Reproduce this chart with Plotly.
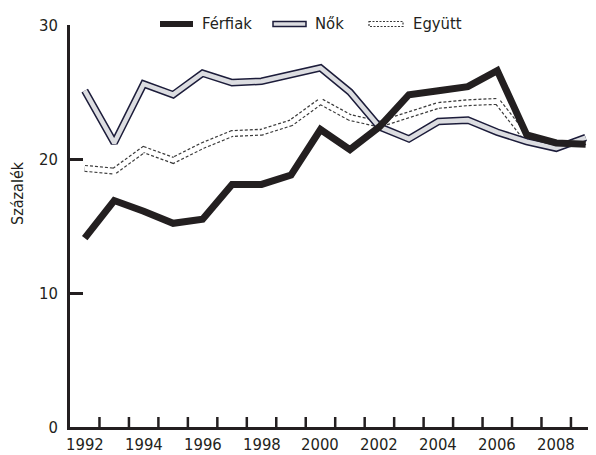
import plotly.graph_objects as go

years = list(range(1992, 2010))
ferfiak = [14.1, 16.9, 16.1, 15.2, 15.5, 18.1, 18.1, 18.8, 22.2, 20.7, 22.4, 24.8, 25.1, 25.4, 26.6, 21.8, 21.2, 21.1]
nok = [25.1, 21.2, 25.6, 24.8, 26.4, 25.7, 25.8, 26.3, 26.8, 25.0, 22.4, 21.5, 22.8, 22.9, 22.0, 21.3, 20.8, 21.6]
egyutt = [19.3, 19.1, 20.7, 19.9, 21.0, 21.9, 22.0, 22.7, 24.3, 23.1, 22.6, 23.3, 24.0, 24.2, 24.3, 21.5, 21.0, 21.3]
label_years = list(range(1992, 2009, 2))
tick_years = [y + 0.5 for y in range(1992, 2009)]
series_names = ["Férfiak", "Nők", "Együtt"]
y_title = "Százalék"

INK = "#231f20"
NAVY = "#1c1c3a"
GREY = "#dcdde1"
FONT = "DejaVu Sans Condensed, Liberation Sans Narrow, sans-serif"
FS = 16.5

fig = go.Figure()
# Együtt: dashed double line
fig.add_trace(go.Scatter(x=years, y=egyutt, mode="lines", showlegend=False,
                         line=dict(color="#3a3a3a", width=7, dash="3px,2px")))
fig.add_trace(go.Scatter(x=years, y=egyutt, mode="lines", showlegend=False,
                         line=dict(color="white", width=4.6)))
# Nők: outlined grey line
fig.add_trace(go.Scatter(x=years, y=nok, mode="lines", showlegend=False,
                         line=dict(color=NAVY, width=7.5)))
fig.add_trace(go.Scatter(x=years, y=nok, mode="lines", showlegend=False,
                         line=dict(color=GREY, width=4.5)))
# Férfiak: thick black
fig.add_trace(go.Scatter(x=years, y=ferfiak, mode="lines", showlegend=False,
                         line=dict(color=INK, width=7)))

OFF = 8  # page body margin
W, H = 596 - OFF, 455 - OFF
L, R, T, B = 70 - OFF, 0, 25 - OFF, 28
pw, ph = W - L - R, H - T - B


def px(x):
    return (x - OFF - L) / pw


def py(y):
    return (H - B - (y - OFF)) / ph


shapes = []
annotations = []
ly = 24
# legend Férfiak
shapes.append(dict(type="line", xref="paper", yref="paper", x0=px(160), x1=px(193),
                   y0=py(ly), y1=py(ly), line=dict(color=INK, width=6)))
annotations.append(dict(text=series_names[0], xref="paper", yref="paper", x=px(200), y=py(ly),
                        xanchor="left", yanchor="middle", showarrow=False,
                        font=dict(family=FONT, size=FS, color=INK)))
# legend Nők
shapes.append(dict(type="rect", xref="paper", yref="paper", x0=px(273), x1=px(306),
                   y0=py(ly - 2.5), y1=py(ly + 2.5), fillcolor=GREY,
                   line=dict(color=NAVY, width=1.5)))
annotations.append(dict(text=series_names[1], xref="paper", yref="paper", x=px(313), y=py(ly),
                        xanchor="left", yanchor="middle", showarrow=False,
                        font=dict(family=FONT, size=FS, color=INK)))
# legend Együtt
shapes.append(dict(type="rect", xref="paper", yref="paper", x0=px(369), x1=px(403),
                   y0=py(ly - 2.5), y1=py(ly + 2.5), fillcolor="white",
                   line=dict(color="#3a3a3a", width=1.2, dash="2px,1.5px")))
annotations.append(dict(text=series_names[2], xref="paper", yref="paper", x=px(411), y=py(ly),
                        xanchor="left", yanchor="middle", showarrow=False,
                        font=dict(family=FONT, size=FS, color=INK)))
# y title
annotations.append(dict(text=y_title, xref="paper", yref="paper", x=px(17), y=py(193),
                        xanchor="center", yanchor="middle", textangle=-90, showarrow=False,
                        font=dict(family=FONT, size=16, color=INK)))
# x tick labels at the category centres
for yr in label_years:
    annotations.append(dict(text=str(yr), xref="x", yref="paper", x=yr, y=py(444),
                            xanchor="center", yanchor="middle", showarrow=False,
                            font=dict(family=FONT, size=FS, color=INK)))
# x tick marks between categories (inside, pointing up)
for tv in tick_years:
    shapes.append(dict(type="line", xref="x", yref="paper", x0=tv, x1=tv,
                       y0=0, y1=10 / ph, line=dict(color=INK, width=2.5), layer="above"))

XRANGE = [1991.5, 2009.35]
fig.update_layout(
    width=W, height=H,
    margin=dict(l=L, r=R, t=T, b=B, pad=0),
    paper_bgcolor="white", plot_bgcolor="white",
    font=dict(family=FONT, size=FS, color=INK),
    shapes=shapes, annotations=annotations,
    showlegend=False,
    xaxis=dict(range=XRANGE, showticklabels=False, ticks="",
               showgrid=False, zeroline=False,
               showline=True, linecolor=INK, linewidth=2.5),
    yaxis=dict(range=[0, 30], tickmode="array", tickvals=[0, 10, 20, 30],
               ticks="inside", ticklen=13, tickwidth=2.5, tickcolor=INK,
               showgrid=False, zeroline=False,
               showline=True, linecolor=INK, linewidth=2.5,
               ticklabelstandoff=6,
               tickfont=dict(family=FONT, size=FS, color=INK)),
)

fig.write_html("out.html")
